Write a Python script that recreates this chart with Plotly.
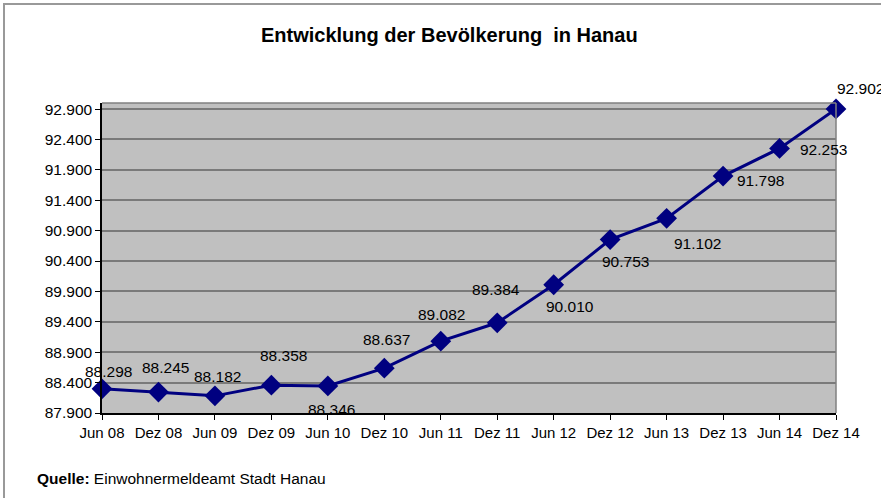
import plotly.graph_objects as go

categories = ["Jun 08", "Dez 08", "Jun 09", "Dez 09", "Jun 10", "Dez 10", "Jun 11",
              "Dez 11", "Jun 12", "Dez 12", "Jun 13", "Dez 13", "Jun 14", "Dez 14"]
population = [88298, 88245, 88182, 88358, 88346, 88637, 89082,
              89384, 90010, 90753, 91102, 91798, 92253, 92902]
y_ticks = [87900, 88400, 88900, 89400, 89900, 90400, 90900, 91400, 91900, 92400, 92900]

# label offsets in pixels (style only)
label_dx = [6, 7, 3, 12, 4, 2, 1, -1, 16, 15, 31, 37, 44, 24]
label_dy = [17, 25, 19, 30, -24, 29, 27, 33, -22, -22, -25, -4, -1, 20]

def de(v):
    return f"{v:,}".replace(",", ".")

F = "Liberation Sans, Arial"

fig = go.Figure()
fig.add_trace(go.Scatter(
    x=categories, y=population, mode="lines+markers",
    line=dict(color="#000080", width=3),
    marker=dict(symbol="diamond", size=16, color="#000080"),
    cliponaxis=False, hoverinfo="x+y",
))

for c, v, dx, dy in zip(categories, population, label_dx, label_dy):
    fig.add_annotation(x=c, y=v, text=de(v), showarrow=False, xshift=dx, yshift=dy,
                       font=dict(family=F, size=15.5, color="#000000"))

fig.update_layout(
    width=881, height=498,
    margin=dict(l=102, r=45, t=103, b=85),
    paper_bgcolor="white", plot_bgcolor="#C0C0C0",
    showlegend=False,
    title=dict(text="<b>Entwicklung der Bevölkerung  in Hanau</b>", x=0.51, xanchor="center",
               y=1 - 35 / 498, yanchor="middle",
               font=dict(family=F, size=20, color="#000000")),
    xaxis=dict(type="category", range=[0, 13], showgrid=False,
               showline=True, linecolor="#000000", linewidth=1.5,
               ticks="outside", ticklen=5, tickcolor="#000000",
               tickfont=dict(family=F, size=15, color="#000000"),
               mirror=False, zeroline=False),
    yaxis=dict(range=[87900, 93000], tickvals=y_ticks, ticktext=[de(v) for v in y_ticks],
               showgrid=True, gridcolor="#7a7a7a", gridwidth=1.5,
               showline=True, linecolor="#000000", linewidth=1.5,
               ticks="outside", ticklen=5, tickcolor="#000000",
               tickfont=dict(family=F, size=15.5, color="#000000"), zeroline=False),
)

# plot area top and right borders (gray)
fig.add_shape(type="line", xref="paper", yref="paper", x0=0, x1=1, y0=1, y1=1,
              line=dict(color="#808080", width=1.5))
fig.add_shape(type="line", xref="paper", yref="paper", x0=1, x1=1, y0=0, y1=1,
              line=dict(color="#808080", width=1.5))
# outer chart frame
pw, ph = 734, 310
fig.add_shape(type="rect", xref="paper", yref="paper",
              x0=(4 - 102) / pw, x1=(890 - 102) / pw,
              y0=(413 - 505) / ph, y1=(413 - 4) / ph,
              line=dict(color="#999999", width=2), layer="below")

fig.add_annotation(xref="paper", yref="paper", x=(35 - 102) / pw, y=(413 - 478) / ph,
                   xanchor="left", yanchor="middle", showarrow=False,
                   text="<b>Quelle:</b> Einwohnermeldeamt Stadt Hanau",
                   font=dict(family=F, size=15.5, color="#000000"))

fig.write_html("out.html", config={"displayModeBar": False},
               post_script="document.body.style.margin='0px';document.body.style.overflow='hidden';")
